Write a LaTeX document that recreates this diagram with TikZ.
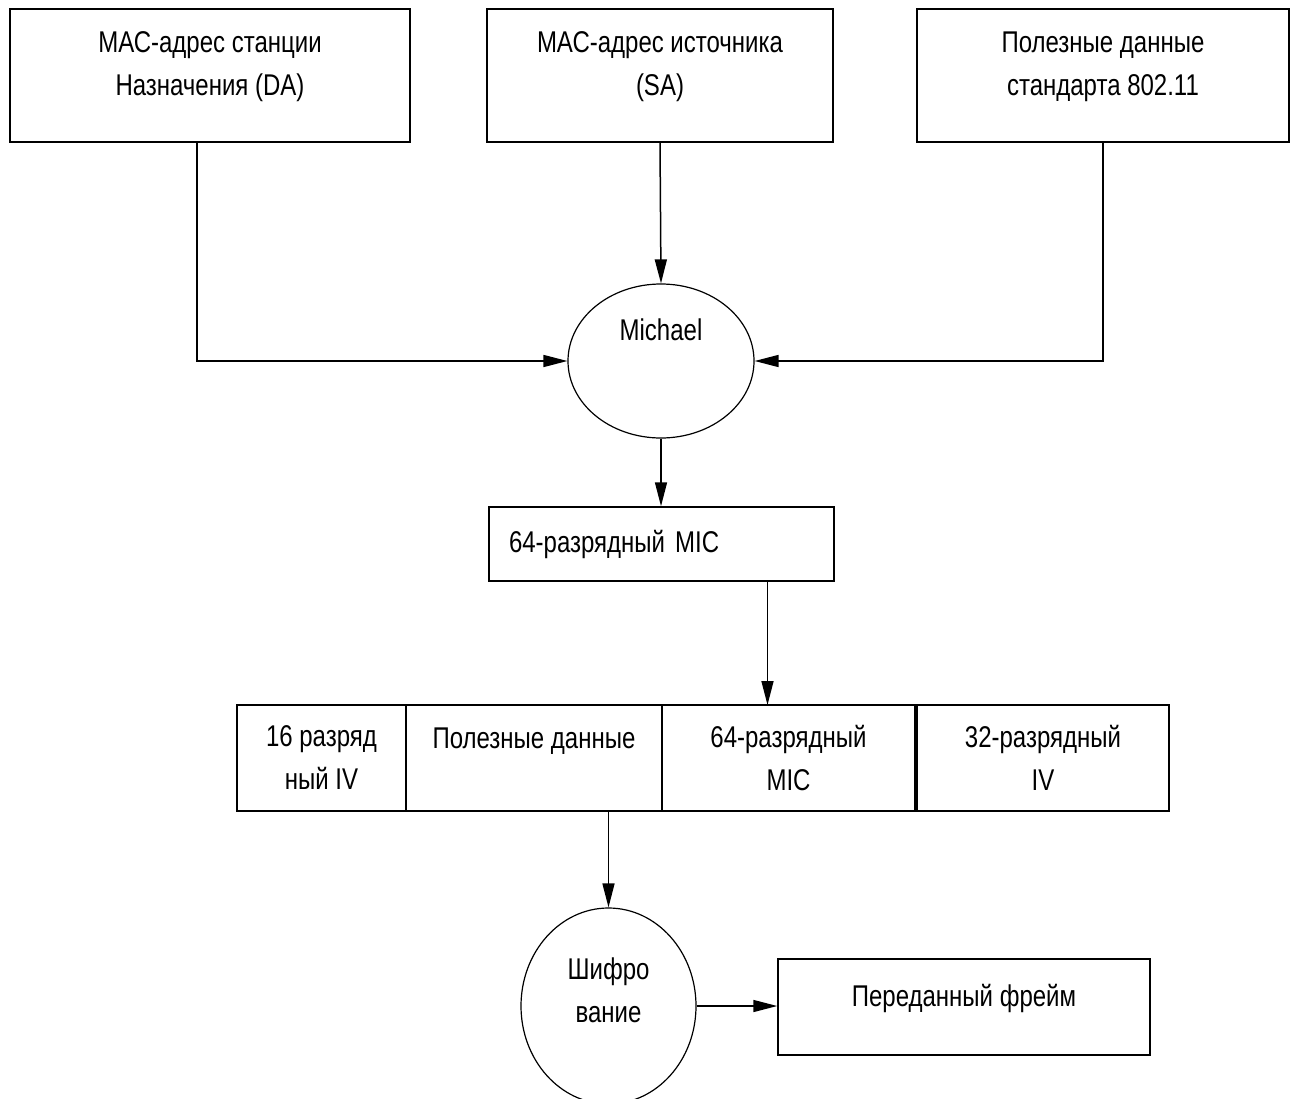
\documentclass[tikz,border=0pt]{standalone}
\usepackage{fontspec}
\setmainfont[FakeStretch=0.8]{Liberation Sans}
\usetikzlibrary{positioning, shapes.geometric, arrows.meta}

\begin{document}
\begin{tikzpicture}[
          x=1pt, y=-1pt,
          box/.style={rectangle, draw, line width=1.5pt, align=center, font=\fontsize{30}{43}\selectfont},
          cell/.style={box, outer sep=0pt, minimum height=106},
          oval/.style={ellipse, draw, line width=1.2pt, align=center, font=\fontsize{30}{43}\selectfont},
          arrow/.style={-{Triangle[length=24pt, width=12pt]}, line width=1.5pt}
        ]
          \useasboundingbox (0,0) rectangle (1293,1098);

          \node[box, minimum width=400, minimum height=133, text depth=24pt] (da) at (210,75.5) {МАС-адрес станции\\Назначения (DA)};
          \node[box, minimum width=346, minimum height=133, text depth=24pt] (sa) at (660,75.5) {МАС-адрес источника\\(SA)};
          \node[box, minimum width=372, minimum height=133, text depth=24pt] (pl) at (1103,75.5) {Полезные данные\\стандарта 802.11};

          \node[oval, minimum width=186, minimum height=154, text depth=62pt] (mich) at (661,361) {Michael};
          \node[box, minimum height=74, text width=305, inner xsep=20pt, align=left] (mic) at (661.5,544) {64-разрядный MIC};

          % frame fields
          \node[cell, minimum width=169] (c1) at (321.5,758) {16 разряд\\ный IV};
          \node[cell, minimum width=256, text depth=40pt, right=0pt of c1] (c2) {Полезные данные};
          \node[cell, minimum width=253, right=0pt of c2] (c3) {64-разрядный\\MIC};
          \node[cell, minimum width=252, right=2pt of c3] (c4) {32-разрядный\\IV};

          \node[oval, minimum width=175, minimum height=196, text depth=32pt] (enc) at (608.5,1006) {Шифро\\вание};
          \node[box, minimum width=372, minimum height=96, text depth=24pt] (frame) at (964,1007) {Переданный фрейм};

          \draw[arrow] ([xshift=-13]da.south) |- (mich.west);
          \draw[arrow] (sa.south) -- (mich.north);
          \draw[arrow] (pl.south) |- (mich.east);
          \draw[arrow] (mich.south) -- (mich.south |- mic.north);
          \draw[arrow] ([xshift=106]mic.south) -- ([xshift=106]mic.south |- c3.north);
          \draw[arrow] (c2.south -| enc.north) -- (enc.north);
          \draw[arrow] (enc.east) -- (enc.east -| frame.west);
        \end{tikzpicture}
\end{document}
